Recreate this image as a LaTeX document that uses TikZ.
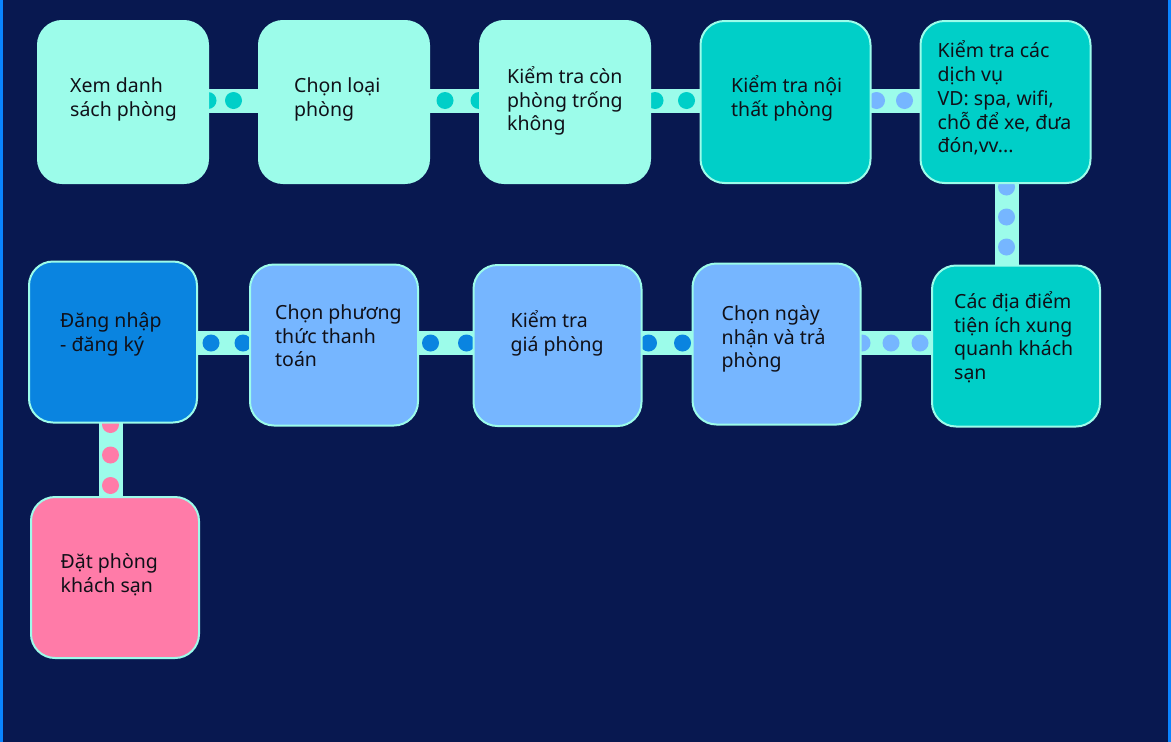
\documentclass[tikz,border=0pt]{standalone}
\usepackage{fontspec}
\setmainfont{Noto Sans}
\definecolor{bgc}{HTML}{081850}
\definecolor{aqua}{HTML}{9CFCEA}
\definecolor{tealc}{HTML}{00CFC8}
\definecolor{bluec}{HTML}{0A84E0}
\definecolor{lblue}{HTML}{76B6FF}
\definecolor{pinkc}{HTML}{FF7BA8}
\definecolor{edgec}{HTML}{0A84FF}
\definecolor{txtc}{HTML}{101018}
\pgfdeclarelayer{back}
\pgfdeclarelayer{conn}
\pgfsetlayers{back,conn,main}
\begin{document}
\begin{tikzpicture}[x=1pt,y=1pt,
  box/.style={draw=aqua, line width=2pt, rounded corners=24pt, inner sep=0pt, outer sep=0pt},
  rowone/.style={box, minimum width=170pt, minimum height=162pt},
  rowtwo/.style={box, minimum width=168pt, minimum height=161pt},
  txt/.style={anchor=north west, align=left, inner sep=0pt, text=txtc, font=\fontsize{19.5}{23.8}\selectfont},
  barline/.style={draw=aqua, line width=24pt},
  dotline/.style n args={3}{draw=#1, line width=17pt, line cap=round, dash pattern=on 0pt off #2pt, dash phase=#3pt}
]
\begin{pgfonlayer}{back}
  \fill[bgc] (0,0) rectangle (1171,-742);
\end{pgfonlayer}
\path[use as bounding box] (0,0) rectangle (1171,-742);
\draw[edgec, line width=2.5pt] (1.25,0) -- (1.25,-742);
\draw[edgec, line width=3pt] (1169.5,0) -- (1169.5,-742);

% row one
\node[rowone, fill=aqua] (b1) at (123,-102) {};
\node[rowone, fill=aqua] (b2) at (344,-102) {};
\node[rowone, fill=aqua] (b3) at (565,-102) {};
\node[rowone, fill=tealc] (b4) at (785.5,-102) {};
\node[rowone, fill=tealc] (b5) at (1005.5,-102) {};
% row two
\node[rowtwo, fill=bluec] (r1) at (113,-342) {};
\node[rowtwo, fill=lblue] (r2) at (334,-345) {};
\node[rowtwo, fill=lblue] (r3) at (557.5,-345.5) {};
\node[rowtwo, fill=lblue] (r4) at (776.5,-344) {};
\node[rowtwo, fill=tealc] (r5) at (1016,-346) {};
% row three
\node[rowtwo, fill=pinkc] (p) at (115,-577.5) {};

% texts
\node[txt] (t1) at (70,-71) {\rule{0pt}{21pt}Xem danh\\sách phòng};
\node[txt] (t2) at (294,-71) {\rule{0pt}{21pt}Chọn loại\\phòng};
\node[txt] (t3) at (507,-62) {\rule{0pt}{21pt}Kiểm tra còn\\phòng trống\\không};
\node[txt] (t4) at (731,-71.5) {\rule{0pt}{21pt}Kiểm tra nội\\thất phòng};
\node[txt] (t5) at (937.5,-36.5) {\rule{0pt}{21pt}Kiểm tra các\\dịch vụ\\VD: spa, wifi,\\chỗ để xe, đưa\\đón,vv...};
\node[txt] (t6) at (60,-306) {\rule{0pt}{21pt}Đăng nhập\\- đăng ký};
\node[txt] (t7) at (275,-298) {\rule{0pt}{21pt}Chọn phương\\thức thanh\\toán};
\node[txt] (t8) at (510.5,-306) {\rule{0pt}{21pt}Kiểm tra\\giá phòng};
\node[txt] (t9) at (721.5,-299) {\rule{0pt}{21pt}Chọn ngày\\nhận và trả\\phòng};
\node[txt] (t10) at (954,-287) {\rule{0pt}{21pt}Các địa điểm\\tiện ích xung\\quanh khách\\sạn};
\node[txt] (t11) at (60.5,-547) {\rule{0pt}{21pt}Đặt phòng\\khách sạn};

% connectors
\begin{pgfonlayer}{conn}
  \draw[barline] ([yshift=1.5]b1.east) -- ([yshift=1.5]b2.west);
  \draw[dotline={tealc}{25.5}{0}] ([yshift=1.5]b1.east) -- ([yshift=1.5]b2.west);
  \draw[barline] ([yshift=1.5]b2.east) -- ([yshift=1.5]b3.west);
  \draw[dotline={tealc}{34}{18}] ([yshift=1.5]b2.east) -- ([yshift=1.5]b3.west);
  \draw[barline] ([yshift=1.5]b3.east) -- ([yshift=1.5]b4.west);
  \draw[dotline={tealc}{31.5}{26.5}] ([yshift=1.5]b3.east) -- ([yshift=1.5]b4.west);
  \draw[barline] ([yshift=1.5]b4.east) -- ([yshift=1.5]b5.west);
  \draw[dotline={lblue}{28}{22}] ([yshift=1.5]b4.east) -- ([yshift=1.5]b5.west);
  \draw[barline] ([xshift=1]b5.south) -- ([xshift=1]b5.south |- r5.north);
  \draw[dotline={lblue}{30}{26}] ([xshift=1]b5.south) -- ([xshift=1]b5.south |- r5.north);
  \draw[barline] ([yshift=3]r5.west) -- ([yshift=3]r5.west -| r4.east);
  \draw[dotline={lblue}{29}{17}] ([yshift=3]r5.west) -- ([yshift=3]r5.west -| r4.east);
  \draw[barline] ([yshift=1]r4.west) -- ([yshift=1]r4.west -| r3.east);
  \draw[dotline={bluec}{34}{24}] ([yshift=1]r4.west) -- ([yshift=1]r4.west -| r3.east);
  \draw[barline] ([yshift=2.5]r3.west) -- ([yshift=2.5]r3.west -| r2.east);
  \draw[dotline={bluec}{36}{29}] ([yshift=2.5]r3.west) -- ([yshift=2.5]r3.west -| r2.east);
  \draw[barline] ([yshift=2]r2.west) -- ([yshift=2]r2.west -| r1.east);
  \draw[dotline={bluec}{32}{25}] ([yshift=2]r2.west) -- ([yshift=2]r2.west -| r1.east);
  \draw[barline] ([xshift=-2.5]r1.south) -- ([xshift=-2.5]r1.south |- p.north);
  \draw[dotline={pinkc}{30.5}{28.5}] ([xshift=-2.5]r1.south) -- ([xshift=-2.5]r1.south |- p.north);
\end{pgfonlayer}
\end{tikzpicture}
\end{document}
